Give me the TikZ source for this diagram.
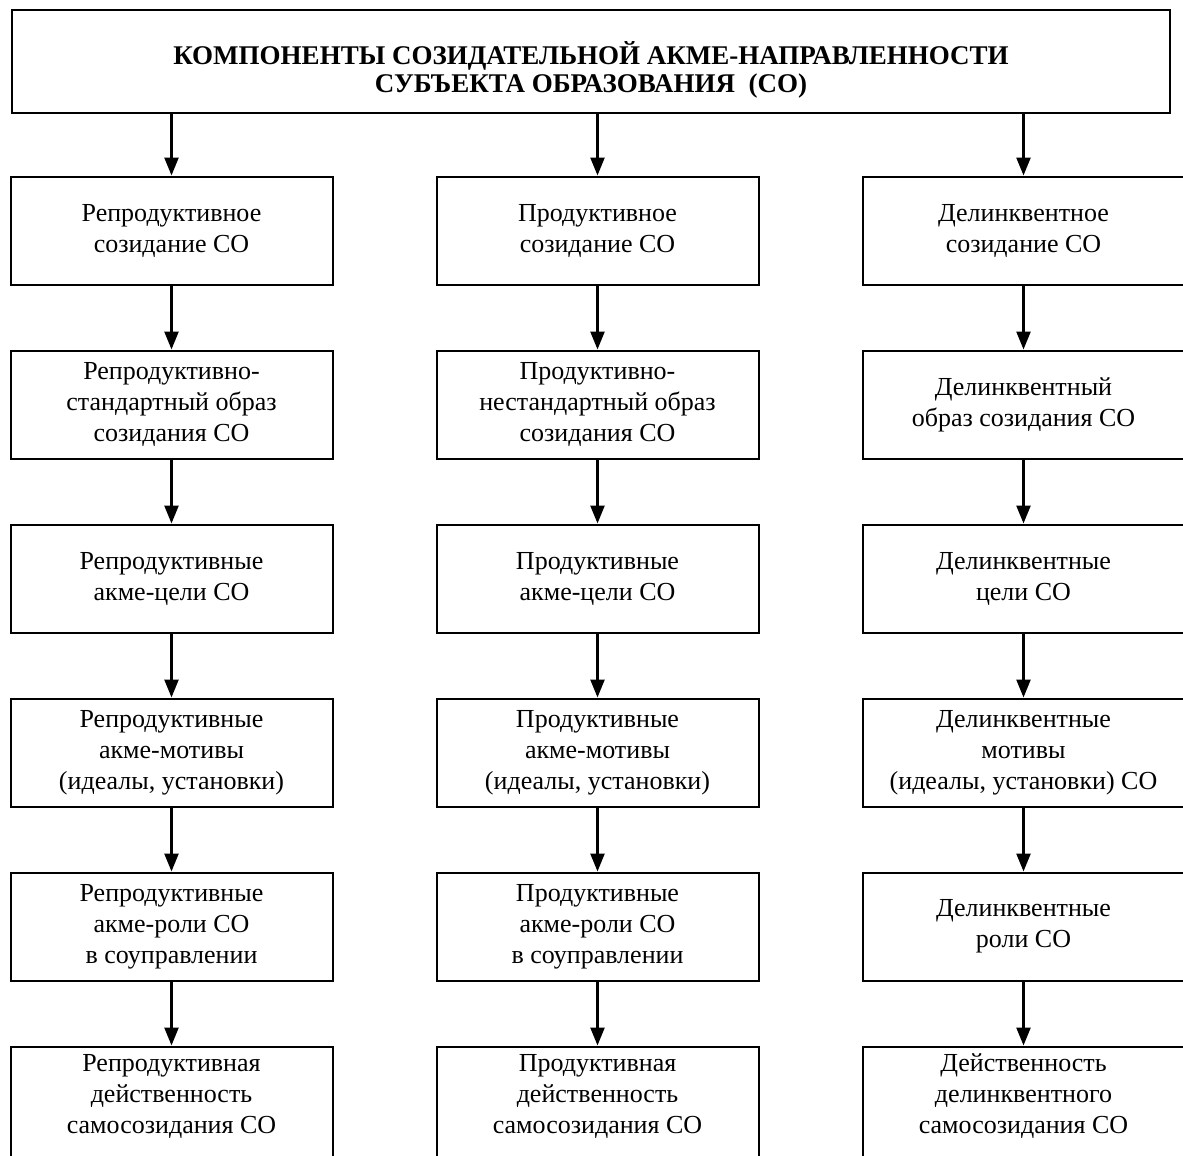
\documentclass[tikz,border=0pt]{standalone}
\usepackage{fontspec}
\setmainfont{Liberation Serif}
\usetikzlibrary{arrows.meta}

\begin{document}
\begin{tikzpicture}
 [ x=1pt, y=1pt
 , grow=down
 , level 1/.style={sibling distance=426pt, level distance=169pt}
 , level 2/.style={level distance=174pt}
 , box/.style={draw, line width=2pt, minimum width=322pt, minimum height=108pt,
               inner sep=0pt, align=center, font=\fontsize{26}{31}\selectfont}
 , first box/.style={box, xshift=6.5pt}
 , open box/.style={box, minimum height=124pt, yshift=-8pt, text depth=30pt}
 , head/.style={draw, line width=2.5pt, minimum width=1158pt, minimum height=103pt,
                align=center, font=\bfseries\fontsize{27}{28}\selectfont}
 , edge from parent/.style={draw, line width=2.5pt, -{Triangle[width=14pt,length=18pt]}}
 , edge from parent path={(\tikzparentnode.south -| \tikzchildnode) -- (\tikzchildnode.north)}
 ]
  \useasboundingbox (0,0) rectangle (1183,-1156);
  \clip (0,0) rectangle (1183,-1156);
  \node [head] (head) at (591,-61.5)
    {\rule{0pt}{40pt}КОМПОНЕНТЫ СОЗИДАТЕЛЬНОЙ АКМЕ-НАПРАВЛЕННОСТИ\\СУБЪЕКТА ОБРАЗОВАНИЯ~~(СО)}
    % reproductive
    child
    {
      node [first box] (r1) {Репродуктивное\\созидание СО}
      child { node [box] (r2) {Репродуктивно-\\стандартный образ\\созидания СО}
      child { node [box] (r3) {Репродуктивные\\акме-цели СО}
      child { node [box] (r4) {Репродуктивные\\акме-мотивы\\(идеалы, установки)}
      child { node [box] (r5) {Репродуктивные\\акме-роли СО\\в соуправлении}
      child { node [open box] (r6) {Репродуктивная\\действенность\\самосозидания СО} }
      } } } }
    }
    % productive
    child
    {
      node [first box] (p1) {Продуктивное\\созидание СО}
      child { node [box] (p2) {Продуктивно-\\нестандартный образ\\созидания СО}
      child { node [box] (p3) {Продуктивные\\акме-цели СО}
      child { node [box] (p4) {Продуктивные\\акме-мотивы\\(идеалы, установки)}
      child { node [box] (p5) {Продуктивные\\акме-роли СО\\в соуправлении}
      child { node [open box] (p6) {Продуктивная\\действенность\\самосозидания СО} }
      } } } }
    }
    % delinquent
    child
    {
      node [first box] (d1) {Делинквентное\\созидание СО}
      child { node [box] (d2) {Делинквентный\\образ созидания СО}
      child { node [box] (d3) {Делинквентные\\цели СО}
      child { node [box] (d4) {Делинквентные\\мотивы\\(идеалы, установки) СО}
      child { node [box] (d5) {Делинквентные\\роли СО}
      child { node [open box] (d6) {Действенность\\делинквентного\\самосозидания СО} }
      } } } }
    }
  ;
\end{tikzpicture}
\end{document}
